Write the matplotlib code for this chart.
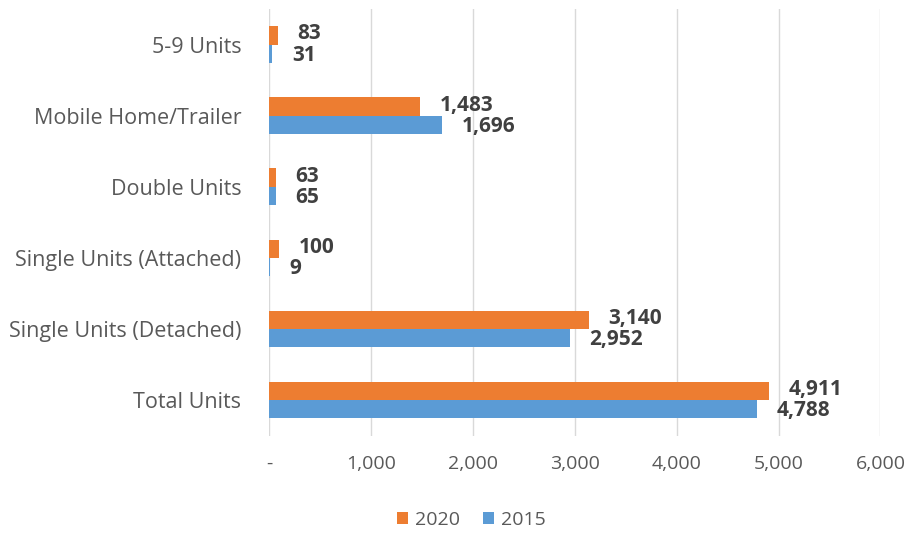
import numpy as np
import matplotlib
matplotlib.use("Agg")
import matplotlib.pyplot as plt
from matplotlib.ticker import FuncFormatter

plt.rcParams['font.family'] = ['Open Sans', 'DejaVu Sans']

categories = ["Total Units", "Single Units (Detached)", "Single Units (Attached)",
              "Double Units", "Mobile Home/Trailer", "5-9 Units"]
vals_2020 = [4911, 3140, 100, 63, 1483, 83]
vals_2015 = [4788, 2952, 9, 65, 1696, 31]
x_ticks = [0, 1000, 2000, 3000, 4000, 5000, 6000]

ORANGE = "#ED7D31"
BLUE = "#5B9BD5"
TEXT = "#595959"
LABEL = "#404040"

fig = plt.figure(figsize=(9.19, 5.52), dpi=100)
ax = fig.add_axes([0.293, 0.211, 0.665, 0.772])

y = np.arange(len(categories))
h = 0.26
b20 = ax.barh(y + h / 2, vals_2020, height=h, color=ORANGE, label="2020", zorder=3)
b15 = ax.barh(y - h / 2, vals_2015, height=h, color=BLUE, label="2015", zorder=3)

# value labels just right of each bar end
for bars, vals, dy in ((b20, vals_2020, 1.2), (b15, vals_2015, -1.2)):
    for bar, v in zip(bars, vals):
        ax.annotate(f"{v:,}", (bar.get_width(), bar.get_y() + bar.get_height() / 2),
                    xytext=(14, dy), textcoords="offset points", ha="left", va="center",
                    fontsize=15, fontweight="bold", color=LABEL, zorder=4)

ax.set_xlim(0, 6000)
ax.set_ylim(-0.5, len(categories) - 0.5)
ax.set_xticks(x_ticks)
ax.xaxis.set_major_formatter(FuncFormatter(lambda v, p: "-" if v == 0 else f"{int(v):,}"))
ax.set_yticks(y)
ax.set_yticklabels(categories)
ax.tick_params(axis="x", length=0, pad=14, labelsize=14, labelcolor=TEXT)
ax.tick_params(axis="y", length=0, pad=20, labelsize=15.5, labelcolor=TEXT)
ax.grid(axis="x", color="#d9d9d9", linewidth=1, zorder=0)
for s in ax.spines.values():
    s.set_visible(False)

handles, labels = ax.get_legend_handles_labels()
fig.legend(handles, labels, loc="center", bbox_to_anchor=(0.513, 0.058), ncol=2,
           frameon=False, fontsize=14, labelcolor=TEXT, handlelength=0.55, handleheight=0.6,
           handletextpad=0.35, columnspacing=1.2)

fig.savefig("out.png", dpi=100)
